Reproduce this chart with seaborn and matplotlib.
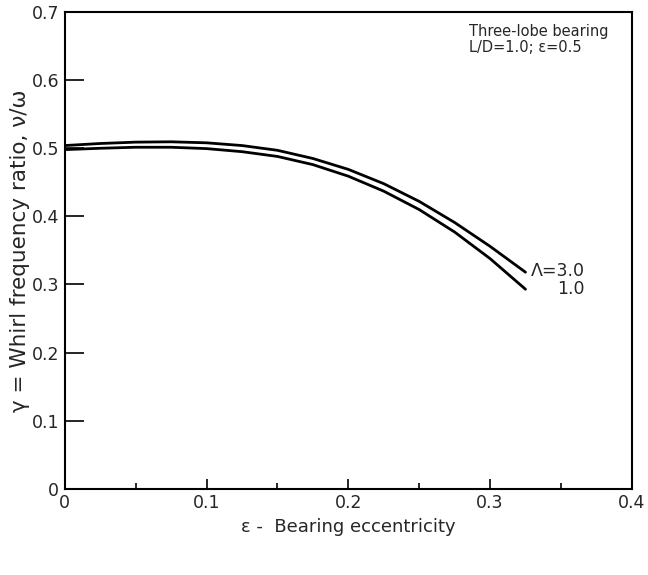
import matplotlib
matplotlib.use("Agg")
import matplotlib.pyplot as plt
import seaborn as sns
import pandas as pd

eccentricity = [0.0, 0.025, 0.05, 0.075, 0.1, 0.125, 0.15, 0.175, 0.2, 0.225, 0.25, 0.275, 0.3, 0.325]
ratio_lambda3 = [0.504, 0.507, 0.509, 0.5095, 0.508, 0.504, 0.497, 0.485, 0.469, 0.448, 0.422, 0.391, 0.356, 0.318]
ratio_lambda1 = [0.498, 0.500, 0.5015, 0.5015, 0.4995, 0.495, 0.488, 0.476, 0.459, 0.437, 0.410, 0.377, 0.338, 0.293]
series_labels = ["Λ=3.0", "1.0"]
x_ticks = [0, 0.1, 0.2, 0.3, 0.4]
x_ticklabels = ["0", "0.1", "0.2", "0.3", "0.4"]
y_ticks = [0, 0.1, 0.2, 0.3, 0.4, 0.5, 0.6, 0.7]
y_ticklabels = ["0", "0.1", "0.2", "0.3", "0.4", "0.5", "0.6", "0.7"]

df = pd.concat([
    pd.DataFrame({"eps": eccentricity, "ratio": ratio_lambda3, "s": series_labels[0]}),
    pd.DataFrame({"eps": eccentricity, "ratio": ratio_lambda1, "s": series_labels[1]}),
])

sns.set_theme(style="white")
plt.rcParams['font.family'] = ['DejaVu Sans']

fig = plt.figure(figsize=(6.48, 5.75), dpi=100)
ax = fig.add_axes([0.100, 0.150, 0.875, 0.829])

sns.lineplot(data=df, x="eps", y="ratio", hue="s", palette=["black", "black"],
             legend=False, linewidth=2.0, ax=ax)

ax.set_xlim(0, 0.4)
ax.set_ylim(0, 0.7)
ax.set_xticks(x_ticks)
ax.set_xticklabels(x_ticklabels)
ax.set_xticks([0.05, 0.15, 0.25, 0.35], minor=True)
ax.set_yticks(y_ticks)
ax.set_yticklabels(y_ticklabels)
ax.tick_params(axis="x", which="major", direction="in", length=7, width=1.2,
               labelsize=12.5, pad=4, color="black", bottom=True)
ax.tick_params(axis="x", which="minor", direction="in", length=4, width=1.2,
               color="black", bottom=True)
ax.tick_params(axis="y", which="major", direction="in", length=14, width=1.2,
               labelsize=12.5, pad=4, color="black", left=True)
for sp in ax.spines.values():
    sp.set_color("black")
    sp.set_linewidth(1.5)

ax.set_xlabel("ɛ -  Bearing eccentricity", fontsize=13, labelpad=4)
ax.set_ylabel("γ = Whirl frequency ratio, ν/ω", fontsize=15.5, labelpad=1)

ax.text(0.367, ratio_lambda3[-1] + 0.002, series_labels[0],
        fontsize=12.5, va="center", ha="right")
ax.text(0.367, ratio_lambda1[-1], series_labels[1],
        fontsize=12.5, va="center", ha="right")
ax.text(0.285, 0.683, "Three-lobe bearing\nL/D=1.0; ɛ=0.5", fontsize=10.5,
        va="top", ha="left", linespacing=1.1)

fig.savefig("out.png", dpi=100)
